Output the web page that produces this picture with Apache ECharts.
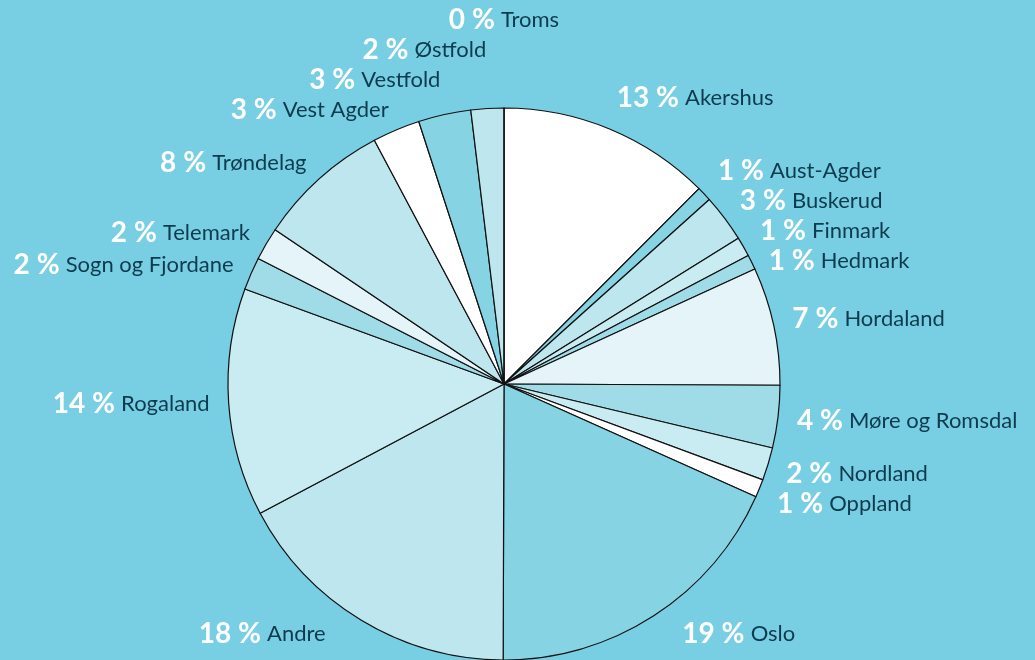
<!DOCTYPE html>
<html>
<head>
<meta charset="utf-8">
<script src="https://cdn.jsdelivr.net/npm/echarts@6/dist/echarts.min.js"></script>
<style>
  html, body { margin: 0; padding: 0; background: #78cee2; }
  #chart { width: 1035px; height: 660px; }
</style>
</head>
<body>
<div id="chart"></div>
<script>
// fylker, clockwise from 12 o'clock
const regions = ['Akershus', 'Aust-Agder', 'Buskerud', 'Finmark', 'Hedmark', 'Hordaland',
  'Møre og Romsdal', 'Nordland', 'Oppland', 'Oslo', 'Andre', 'Rogaland',
  'Sogn og Fjordane', 'Telemark', 'Trøndelag', 'Vest Agder', 'Vestfold', 'Østfold', 'Troms'];
const shares = [13.0, 0.9, 2.9, 1.2, 0.9, 7.2, 3.8, 2.0, 1.1, 19.1, 17.9, 13.9,
  2.0, 2.0, 8.1, 2.9, 3.2, 2.0, 0.0];
const sliceColors = ['#ffffff', '#86d3e3', '#bde6ef', '#c9ebf2', '#a0dce8', '#e4f4f9',
  '#a0dce8', '#c9ebf2', '#ffffff', '#86d3e3', '#bde6ef', '#c9ebf2',
  '#a0dce8', '#e4f4f9', '#bde6ef', '#ffffff', '#86d3e3', '#bde6ef', '#ffffff'];

const cx = 504, cy = 384, R = 276;

// label spots, excel style: outside the slice middle, stacked when crowded
// (right half pushes down, left half pushes up)
const total = shares.reduce(function (a, b) { return a + b; }, 0);
const spots = [];
let acc = 0;
shares.forEach(function (v, i) {
  const mid = (acc + v / 2) / total * Math.PI * 2;
  acc += v;
  const s = Math.sin(mid), c = Math.cos(mid);
  const right = mid < Math.PI;
  spots.push({
    x: cx + 295 * s,
    y: cy - (right ? 310 : 298) * c,
    align: Math.abs(s) < 0.01 ? 'center' : (right ? 'left' : 'right'),
    right: right
  });
});
const step = 30;
for (let i = 1; i < spots.length; i++) {
  const a = spots[i - 1], b = spots[i];
  if (a.right && b.right) b.y = Math.max(b.y, a.y + step);
  if (!a.right && !b.right) b.y = Math.min(b.y, a.y - step);
}
// keep inside the bottom edge, sliding outwards so the box clears the pie
const yMax = 634;
spots.forEach(function (p) {
  if (p.y > yMax) {
    p.y = yMax;
    const dx = Math.sqrt(295 * 295 - Math.pow(p.y - 15 - cy, 2));
    p.x = cx + (p.right ? dx : -dx);
  }
});

const chart = echarts.init(document.getElementById('chart'));

chart.setOption({
  backgroundColor: '#78cee2',
  animation: false,
  series: [{
    type: 'pie',
    center: [cx, cy],
    radius: R,
    startAngle: 90,
    clockwise: true,
    avoidLabelOverlap: false,
    itemStyle: { borderColor: '#111', borderWidth: 1.2 },
    label: {
      show: true,
      position: 'outside',
      fontFamily: 'Lato',
      formatter: function (p) {
        return '{p|' + Math.round(p.value) + ' %} {n|' + p.name + '}';
      },
      rich: {
        p: { fontFamily: 'Lato', fontWeight: 'bold', fontSize: 28, color: '#ffffff', lineHeight: 30 },
        n: { fontFamily: 'Lato', fontSize: 22, color: '#0e3b4e', lineHeight: 30, padding: [0, 0, 0, 3] }
      }
    },
    labelLine: { show: false },
    labelLayout: function (params) {
      const p = spots[params.dataIndex];
      return { x: p.x, y: p.y, align: p.align, verticalAlign: 'middle' };
    },
    data: regions.map(function (name, i) {
      return { name: name, value: shares[i], itemStyle: { color: sliceColors[i] } };
    })
  }]
});
</script>
</body>
</html>
